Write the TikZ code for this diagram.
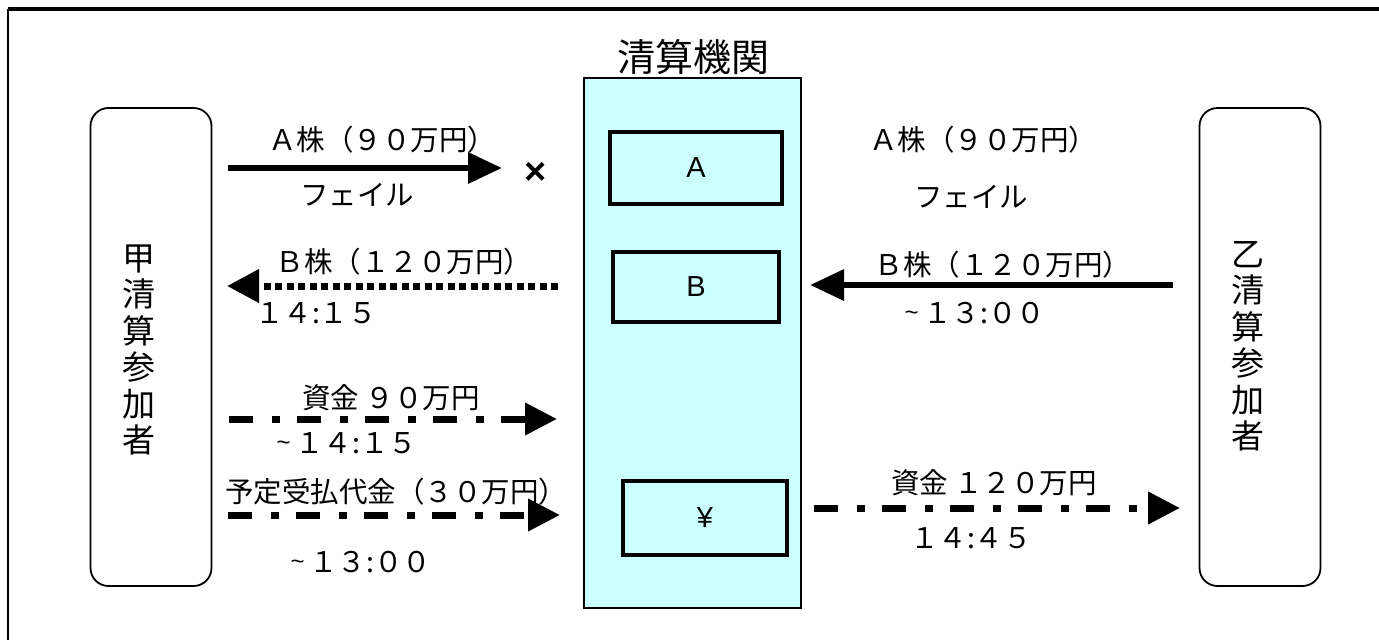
\documentclass[tikz,border=0pt]{standalone}
\usepackage{fontspec}
\setmainfont{Noto Sans CJK JP}
\newfontfamily\latinsans{Liberation Sans}
\usetikzlibrary{arrows.meta}
\definecolor{cyanfill}{HTML}{CCFFFF}
\tikzset{
  lbl/.style={font=\fontsize{28.5}{30}\selectfont, inner sep=0pt},
  vtxt/.style={font=\fontsize{33}{36.5}\selectfont, inner sep=0pt, align=center},
  party/.style={draw, line width=1.8pt, rounded corners=18pt, minimum width=121pt, minimum height=478pt},
  acct/.style={draw, line width=4pt, font=\latinsans\fontsize{29}{31}\selectfont, inner sep=0pt},
  flowsolid/.style={line width=6.5pt, -{Triangle[length=34pt,width=30pt]}},
  flowdot/.style={line width=7pt, dash pattern=on 7pt off 4.5pt, -{Triangle[length=32pt,width=32pt]}},
  flowdd/.style={line width=7pt, dash pattern=on 24pt off 19pt on 8pt off 17pt, -{Triangle[length=32pt,width=31pt]}}
}
\newcommand{\tld}{{\latinsans\fontsize{24}{26}\selectfont\raisebox{3pt}{\textasciitilde}}\,}
\begin{document}
\begin{tikzpicture}[x=1pt,y=-1pt]
\useasboundingbox (0,0) rectangle (1379,640);
% outer frame
\draw[line width=3.5pt] (8,9) -- (1379,9);
\draw[line width=2.2pt] (8,9) -- (8,640);
% label that is overlapped by the centre box
\node[lbl] (l6) at (396,492) {予定受払代金（３０万円）};
% clearing house
\node[font=\fontsize{38}{40}\selectfont, inner sep=0pt] (cht) at (693,57) {清算機関};
\node[draw, line width=1.3pt, fill=cyanfill, minimum width=217pt, minimum height=530pt, inner sep=0pt] (cc) at (692.5,343) {};
\node[acct, minimum width=172pt, minimum height=72pt] (ba) at (696,168) {A};
\node[acct, minimum width=166pt, minimum height=70pt] (bb) at (696,287) {B};
\node[acct, minimum width=164pt, minimum height=74pt] (by) at (705,518) {¥};
% participants
\node[party] (pk) at (151,347) {};
\node[vtxt] (pkt) at (139,350) {甲\\清\\算\\参\\加\\者};
\node[party] (po) at (1260,347) {};
\node[vtxt] (pot) at (1248,346) {乙\\清\\算\\参\\加\\者};
% coordinates for arrow ends
\coordinate (a1s) at (228,168);
\coordinate (a1e) at (502,168);
\coordinate (a2s) at (558,286);
\coordinate (a2e) at (227,286);
\coordinate (a4s) at (1173,285);
\coordinate (a4e) at (810,285);
\coordinate (a5s) at (229,419);
\coordinate (a5e) at (557,419);
\coordinate (a6s) at (228,515);
\coordinate (a6e) at (560,515);
\coordinate (a7s) at (814,508);
\coordinate (a7e) at (1180,508);
% arrows
\draw[flowsolid] (a1s) -- (a1e);
\draw[flowdot] (a2s) -- (a2e);
\draw[flowsolid] (a4s) -- (a4e);
\draw[flowdd] (a5s) -- (a5e);
\draw[flowdd] (a6s) -- (a6e);
\draw[flowdd] (a7s) -- (a7e);
% labels
\node[lbl] (l1) at (382,140) {Ａ株（９０万円）};
\node[lbl] (l1b) at (357,195) {フェイル};
\node[font=\latinsans\fontsize{38}{40}\selectfont\bfseries, inner sep=0pt] (x1) at (536,173) {×};
\node[lbl] (r1) at (983,140) {Ａ株（９０万円）};
\node[lbl] (r1b) at (971,197) {フェイル};
\node[lbl] (l2) at (404,262) {Ｂ株（１２０万円）};
\node[lbl] (l2b) at (316,313) {１４:１５};
\node[lbl] (r2) at (1003,265) {Ｂ株（１２０万円）};
\node[lbl] (r2b) at (975,313) {\tld １３:００};
\node[lbl] (l5) at (391,398) {資金 ９０万円};
\node[lbl] (l5b) at (347,443) {\tld １４:１５};
\node[lbl] (l6b) at (361,562) {\tld １３:００};
\node[lbl] (r7) at (994,483) {資金 １２０万円};
\node[lbl] (r7b) at (971,538) {１４:４５};
\end{tikzpicture}
\end{document}
